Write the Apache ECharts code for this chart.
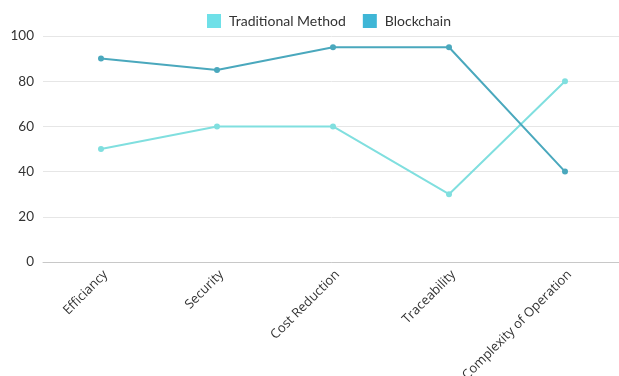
<!DOCTYPE html>
<html>
<head>
<meta charset="utf-8">
<script src="https://cdn.jsdelivr.net/npm/echarts@6/dist/echarts.min.js"></script>
<style>
  html, body { margin: 0; padding: 0; background: #fff; }
  #chart { width: 619px; height: 376px; }
</style>
</head>
<body>
<div id="chart"></div>
<script>
// values
var categories = ['Efficiancy', 'Security', 'Cost Reduction', 'Traceability', 'Complexity of Operation'];
var traditional = [50, 60, 60, 30, 80];
var blockchain = [90, 85, 95, 95, 40];
var yTicks = [0, 20, 40, 60, 80, 100];

var chart = echarts.init(document.getElementById('chart'));
var colors = ['#80dfdf', '#4aa8bd'];

var option = {
    color: colors,
    animation: false,
    legend: {
        top: 9,
        left: 202,
        itemWidth: 14,
        itemHeight: 14,
        itemGap: 17,
        icon: 'rect',
        textStyle: { fontSize: 14, color: '#333', fontFamily: 'Lato', padding: [0, 0, 0, 3] },
        data: [
            { name: 'Traditional Method', itemStyle: { color: '#6fe0e8' } },
            { name: 'Blockchain', itemStyle: { color: '#3fb6d6' } }
        ]
    },
    grid: {
        left: 43,
        top: 36,
        width: 580,
        height: 226,
        containLabel: false,
        outerBoundsMode: 'none'
    },
    xAxis: {
        type: 'category',
        data: categories,
        boundaryGap: true,
        axisTick: { show: false },
        axisLine: { lineStyle: { color: '#c8c8c8' } },
        axisLabel: {
            rotate: 45,
            fontSize: 13,
            color: '#333',
            margin: 6,
            verticalAlign: 'top',
            fontFamily: 'Open Sans'
        }
    },
    yAxis: {
        type: 'value',
        min: yTicks[0],
        max: yTicks[yTicks.length - 1],
        interval: 20,
        axisLabel: { fontSize: 13.5, color: '#333', margin: 9, fontFamily: 'Lato' },
        splitLine: { lineStyle: { color: '#e6e6e6' } }
    },
    series: [
        {
            name: 'Traditional Method',
            type: 'line',
            data: traditional,
            symbol: 'circle',
            symbolSize: 6,
            lineStyle: { width: 2 }
        },
        {
            name: 'Blockchain',
            type: 'line',
            data: blockchain,
            symbol: 'circle',
            symbolSize: 6,
            lineStyle: { width: 2 }
        }
    ]
};
chart.setOption(option);
</script>
</body>
</html>
